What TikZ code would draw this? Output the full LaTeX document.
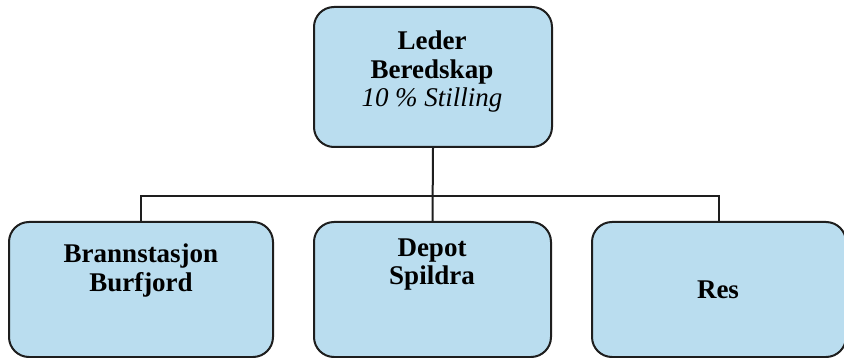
\documentclass[tikz,border=0pt]{standalone}
\usepackage{fontspec}
\setmainfont{Liberation Serif}
\definecolor{boxblue}{RGB}{186,221,239}
\definecolor{boxline}{RGB}{30,30,30}
\begin{document}
\begin{tikzpicture}[x=1pt,y=-1pt,
  box/.style={draw=boxline, line width=2pt, fill=boxblue, rounded corners=20pt, inner sep=0pt},
  lbl/.style={font=\fontsize{27}{28.5}\selectfont\bfseries, align=center, anchor=base, inner sep=0pt},
  conn/.style={draw=boxline, line width=2pt}]
\useasboundingbox (0,0) rectangle (844,358);
\node[box, minimum width=238pt, minimum height=140pt] (top) at (433,77) {};
\node[box, minimum width=264pt, minimum height=135pt] (left) at (141,289.5) {};
\node[box, minimum width=237pt, minimum height=135pt] (mid) at (432.5,289.5) {};
\node[box, minimum width=254pt, minimum height=135pt] (right) at (719,289.5) {};
\draw[conn] (top.south) -- (mid.north);
\draw[conn] (left.north) -- ++(0,-25) -| (right.north);
\node[lbl] (ttop) at (432,107) {Leder\\Beredskap\\{\mdseries\itshape 10 \% Stilling}};
\node[lbl] (tleft) at (141,291) {Brannstasjon\\Burfjord};
\node[lbl] (tmid) at (432,285) {Depot\\Spildra};
\node[lbl] (tright) at (718,299) {Res};
\end{tikzpicture}
\end{document}
